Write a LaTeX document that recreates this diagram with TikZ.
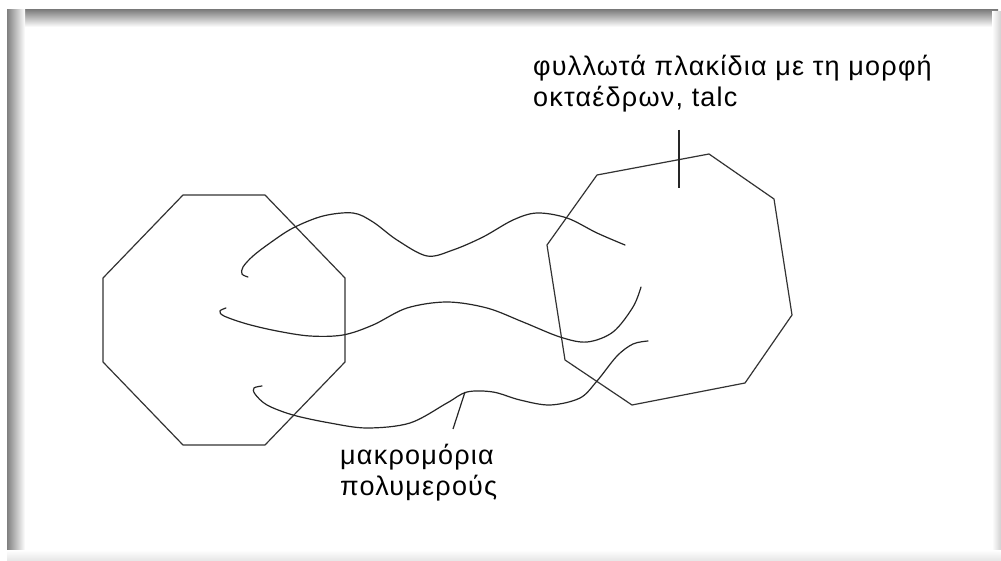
\documentclass[tikz,border=0pt]{standalone}
\usepackage{fontspec}
\setmainfont{Liberation Sans}
\newfontfamily\spacedfont[LetterSpace = 4.5]{Liberation Sans}
\tikzset{
    outline/.style = {line width = 1.2pt, draw = black!80, line join = round},
    strand/.style = {line width = 1.2pt, draw = black!85, line cap = round},
    pointer/.style = {line width = 1.2pt, draw = black!85},
    caption/.style = {
        align = left,
        anchor = base west,
        inner sep = 0pt,
        font = \spacedfont\fontsize{27}{31}\selectfont
    }
}

\begin{document}
\begin{tikzpicture}[x = 1pt, y = -1pt]
    \useasboundingbox (0, 0) rectangle (1001, 561);
    \fill[white] (0, 0) rectangle (1001, 561);
    % shadowed frame
    \shade[top color = black!50, bottom color = white] (7, 10) rectangle (998, 27);
    \shade[left color = black!50, right color = white] (7, 10) rectangle (25, 556);
    \shade[left color = white, right color = black!18] (992, 12) rectangle (1001, 561);
    \shade[top color = white, bottom color = black!10] (7, 550) rectangle (1001, 561);
    % platelets
    \draw[outline] (183, 195) -- (265, 195) -- (345, 278) -- (345, 362)
        -- (265, 445) -- (183, 445) -- (103, 362) -- (103, 278) -- cycle;
    \draw[outline] (597, 175) -- (709, 154) -- (774, 199) -- (792, 315)
        -- (745, 383) -- (632, 405) -- (565, 360) -- (547, 245) -- cycle;
    % polymer chains
    \draw[strand] plot[smooth, tension = 0.55] coordinates {
        (248, 277) (242, 274) (243, 267) (253, 256) (270, 243) (293, 228)
        (323, 216) (353, 213) (373, 222) (397, 240) (427, 256) (453, 250)
        (483, 237) (513, 220) (537, 213) (567, 218) (597, 233) (625, 245)};
    \draw[strand] plot[smooth, tension = 0.55] coordinates {
        (226, 308) (220, 311) (224, 316) (247, 324) (277, 331) (310, 336)
        (343, 335) (373, 325) (407, 308) (447, 302) (487, 308) (523, 322)
        (560, 337) (587, 342) (613, 332) (633, 307) (641, 287)};
    \draw[strand] plot[smooth, tension = 0.55] coordinates {
        (262, 386) (254, 388) (255, 394) (267, 405) (293, 415) (330, 423)
        (367, 428) (410, 423) (447, 403) (467, 392) (493, 392) (520, 400)
        (550, 405) (580, 398) (597, 381) (617, 356) (633, 344) (648, 341)};
    % labels (base anchor sits on the last line)
    \node (talc) [caption] at (533, 107)
        {φυλλωτά πλακίδια με τη μορφή\\οκταέδρων, talc};
    \node (polymer) [caption] at (340, 495)
        {μακρομόρια\\πολυμερούς};
    \coordinate (talc top) at (679, 130);
    \coordinate (talc foot) at (679, 188);
    \coordinate (polymer top) at (465, 392);
    \coordinate (polymer foot) at (453, 429);
    \draw[pointer] (talc top) -- (talc foot);
    \draw[pointer] (polymer top) -- (polymer foot);
\end{tikzpicture}
\end{document}
